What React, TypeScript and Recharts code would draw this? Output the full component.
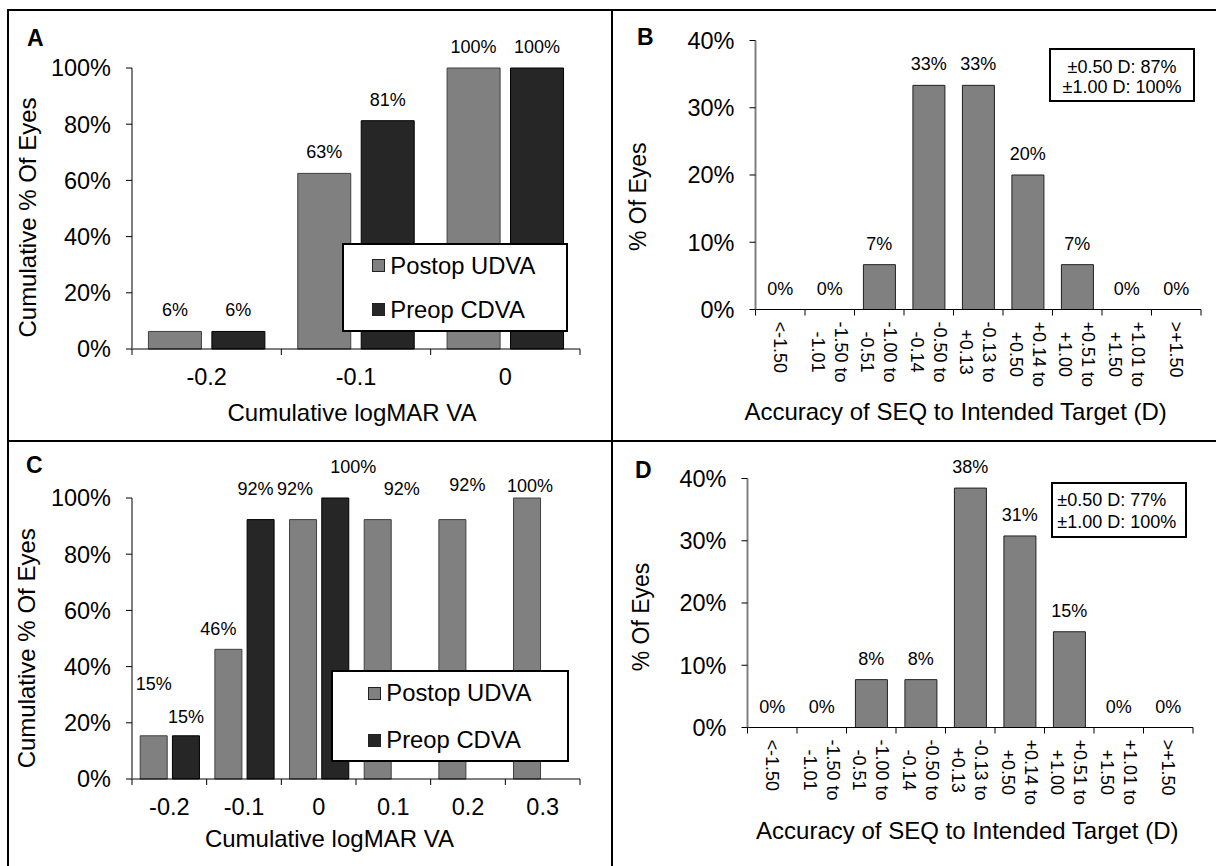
import React from 'react';
import { ComposedChart, Bar, Line, XAxis, YAxis, Legend, LabelList, Label } from 'recharts';

const FONT = '"Liberation Sans", Arial, Helvetica, sans-serif';

// ---------- data ----------
const seriesNames = ['Postop UDVA', 'Preop CDVA'];

const cumCatsA = ['-0.2', '-0.1', '0'];
const postopA = [6.25, 62.5, 100];
const preopA = [6.25, 81.25, 100];

const cumCatsC = ['-0.2', '-0.1', '0', '0.1', '0.2', '0.3'];
const postopC = [15.38, 46.15, 92.31, 92.31, 92.31, 100];
const preopC: (number | null)[] = [15.38, 92.31, 100, null, null, null];

const cumTicks = [0, 20, 40, 60, 80, 100];

const accuracyBins = [
  '<-1.50',
  '-1.50 to -1.01',
  '-1.00 to -0.51',
  '-0.50 to -0.14',
  '-0.13 to +0.13',
  '+0.14 to +0.50',
  '+0.51 to +1.00',
  '+1.01 to +1.50',
  '>+1.50',
];
const eyesB = [0, 0, 6.67, 33.33, 33.33, 20, 6.67, 0, 0];
const eyesD = [0, 0, 7.69, 7.69, 38.46, 30.77, 15.38, 0, 0];
const pctTicks = [0, 10, 20, 30, 40];

const insetB = ['\u00B10.50 D: 87%', '\u00B11.00 D: 100%'];
const insetD = ['\u00B10.50 D: 77%', '\u00B11.00 D: 100%'];

const titleCumX = 'Cumulative logMAR VA';
const titleCumY = 'Cumulative % Of Eyes';
const titleAccX = 'Accuracy of SEQ to Intended Target (D)';
const titleAccY = '% Of Eyes';

// ---------- styles ----------
const GRAY = '#808080';
const DARK = '#262626';
const FRAME = '#808080';
const TICK_FS = 23.5;
const LABEL_FS = 18;
const LEGEND_FS = 23.8;

// label nudges (styling offsets, px) for panel C, where labels were hand placed
const nudgeC = {
  postop: [[0, -31], [-10, 1], [-8, -10], [24, -10], [15, -14], [3, 9]],
  preop: [[0, 2], [-5, -10], [18, -10], [0, 0], [0, 0], [0, 0]],
};

type Rect = { x: number; y: number; w: number; h: number };
type Box = { l: number; t: number; r: number; b: number };
type Layout = {
  chart: Rect;
  plot: Box;
  xTitle: { x: number; y: number; size: number };
  yTitle: { x: number; y: number; size: number };
};

const layoutA: Layout = {
  chart: { x: 10, y: 12, w: 600, h: 427 },
  plot: { l: 132, t: 68, r: 580, b: 349 },
  xTitle: { x: 352, y: 420.5, size: 24 },
  yTitle: { x: 35.5, y: 217.5, size: 24 },
};
const layoutB: Layout = {
  chart: { x: 614, y: 12, w: 600, h: 427 },
  plot: { l: 755.5, t: 40.5, r: 1201, b: 309.5 },
  xTitle: { x: 955.6, y: 420, size: 24 },
  yTitle: { x: 646.5, y: 196.7, size: 23 },
};
const layoutC: Layout = {
  chart: { x: 10, y: 443, w: 600, h: 423 },
  plot: { l: 132, t: 498, r: 580, b: 779 },
  xTitle: { x: 329.4, y: 846.7, size: 24 },
  yTitle: { x: 35.5, y: 648.3, size: 24 },
};
const layoutD: Layout = {
  chart: { x: 614, y: 443, w: 600, h: 423 },
  plot: { l: 747.5, t: 478.5, r: 1193, b: 727.5 },
  xTitle: { x: 967.3, y: 839, size: 24 },
  yTitle: { x: 648.5, y: 617, size: 23 },
};

const legendA = { l: 342, t: 242.7, w: 226, h: 89.3, rows: [20.9, 64.8], sq: 28.3 };
const legendC = { l: 331.3, t: 670, w: 238, h: 91.7, rows: [21.3, 68], sq: 35 };

// Arial advance widths (em) for tick label centering
const CW: Record<string, number> = {
  '.': 0.278, '-': 0.333, '+': 0.584, '<': 0.584, '>': 0.584, ' ': 0.278, t: 0.278, o: 0.556,
};
const textW = (s: string, size: number) =>
  s.split('').reduce((a, c) => a + (CW[c] ?? 0.556), 0) * size;

// ---------- ticks ----------
function CatTick(props: any) {
  const { x, payload, index, band, n, axisY, dy } = props;
  const lx = x - band / 2;
  const rx = x + band / 2;
  return (
    <g>
      <line x1={lx} x2={lx} y1={axisY} y2={axisY + 6} stroke="#000" strokeWidth={1} />
      {index === n - 1 && <line x1={rx} x2={rx} y1={axisY} y2={axisY + 6} stroke="#000" strokeWidth={1} />}
      <text x={x} y={axisY + dy} textAnchor="middle" fontSize={TICK_FS} fontFamily={FONT} fill="#000">
        {payload.value}
      </text>
    </g>
  );
}

function RotTick(props: any) {
  const { x, payload, index, band, n, axisY } = props;
  const label = String(payload.value);
  const k = label.indexOf(' to ');
  const lines = k >= 0 ? [label.slice(0, k + 3), label.slice(k + 4)] : [label];
  const fs = 18;
  const maxW = Math.max(...lines.map((l) => textW(l, fs)));
  const cx = 12 + maxW / 2;
  const gap = 23.3;
  const base = 0.358 * fs;
  const ys = lines.length === 2 ? [-gap / 2 + base, gap / 2 + base] : [base];
  const lx = x - band / 2;
  const rx = x + band / 2;
  return (
    <g>
      <line x1={lx} x2={lx} y1={axisY} y2={axisY + 6} stroke="#000" strokeWidth={1} />
      {index === n - 1 && <line x1={rx} x2={rx} y1={axisY} y2={axisY + 6} stroke="#000" strokeWidth={1} />}
      <g transform={`translate(${x},${axisY}) rotate(90)`}>
        <text fontSize={fs} fontFamily={FONT} fill="#000" textAnchor="middle">
          {lines.map((l, i) => (
            <tspan key={i} x={cx} y={ys[i]}>
              {l}
            </tspan>
          ))}
        </text>
      </g>
    </g>
  );
}

// ---------- labels ----------
const makeLabel = (nudge?: number[][]) => (props: any) => {
  const { value, index } = props;
  if (value === null || value === undefined || value === '') return null;
  const vb = props.viewBox ?? {};
  const bx = vb.x ?? props.x;
  const by = vb.y ?? props.y;
  const bw = vb.width ?? props.width ?? 0;
  const bh = vb.height ?? props.height ?? 0;
  if (bx === undefined || by === undefined || Number.isNaN(bx) || Number.isNaN(by)) return null;
  const top = bh < 0 ? by + bh : by;
  const d = nudge && nudge[index] ? nudge[index] : [0, 0];
  return (
    <text
      x={bx + bw / 2 + d[0]}
      y={top - 15 + d[1]}
      textAnchor="middle"
      fontSize={LABEL_FS}
      fontFamily={FONT}
      fill="#000"
    >
      {`${Math.round(Number(value))}%`}
    </text>
  );
};

// ---------- legend ----------
function LegendBox({ payload, spec }: any) {
  const items = (payload || []).filter((e: any) => e.type !== 'none');
  return (
    <div
      style={{
        position: 'relative',
        width: '100%',
        height: '100%',
        boxSizing: 'border-box',
        border: '2px solid #000',
        background: '#fff',
      }}
    >
      {items.map((e: any, i: number) => (
        <div
          key={i}
          style={{
            position: 'absolute',
            left: spec.sq,
            top: spec.rows[i] - 12,
            height: 24,
            display: 'flex',
            alignItems: 'center',
            fontSize: LEGEND_FS,
            lineHeight: 1,
            fontFamily: FONT,
            color: '#000',
            whiteSpace: 'nowrap',
          }}
        >
          <span
            style={{
              display: 'inline-block',
              width: 13,
              height: 13,
              boxSizing: 'border-box',
              background: e.color,
              border: '1px solid #222',
              marginRight: 5,
            }}
          />
          <span>{e.value}</span>
        </div>
      ))}
    </div>
  );
}

// ---------- panel ----------
type BarSpec = { key: string; name: string; fill: string; stroke: string; nudge?: number[][] };

function Panel(props: {
  layout: Layout;
  data: any[];
  n: number;
  bars: BarSpec[];
  yMax: number;
  yTicks: number[];
  rotated: boolean;
  xTitle: string;
  yTitle: string;
  legend?: typeof legendA;
  catGap: string;
  barGap?: string;
  centerLabels?: boolean;
}) {
  const { layout, data, n, bars, yMax, yTicks, rotated, xTitle, yTitle, legend, catGap, barGap, centerLabels } =
    props;
  const { chart, plot } = layout;
  const band = (plot.r - plot.l) / n;
  const axisY = plot.b - chart.y;
  const xt = layout.xTitle;
  const yt = layout.yTitle;
  return (
    <div style={{ position: 'absolute', left: chart.x, top: chart.y, width: chart.w, height: chart.h }}>
      <ComposedChart
        width={chart.w}
        height={chart.h}
        data={data}
        margin={{ top: plot.t - chart.y, right: chart.x + chart.w - plot.r, left: 0, bottom: 0 }}
        barCategoryGap={catGap}
        barGap={barGap ?? 0}
      >
        <XAxis
          dataKey="cat"
          type="category"
          height={chart.y + chart.h - plot.b}
          interval={0}
          tickLine={false}
          tickSize={0}
          tickMargin={0}
          axisLine={{ stroke: '#000', strokeWidth: 1 }}
          tick={(p: any) =>
            rotated ? (
              <RotTick {...p} band={band} n={n} axisY={axisY} />
            ) : (
              <CatTick {...p} band={band} n={n} axisY={axisY} dy={35.5} />
            )
          }
        >
          <Label
            content={() => (
              <text
                x={xt.x - chart.x}
                y={xt.y - chart.y}
                textAnchor="middle"
                fontSize={xt.size}
                fontFamily={FONT}
                fill="#000"
              >
                {xTitle}
              </text>
            )}
          />
        </XAxis>
        <XAxis
          xAxisId="top"
          orientation="top"
          dataKey="cat"
          height={0}
          tick={false}
          tickLine={false}
          axisLine={{ stroke: FRAME, strokeWidth: 2 }}
        />
        <YAxis
          width={plot.l - chart.x}
          domain={[0, yMax]}
          ticks={yTicks}
          interval={0}
          tickFormatter={(v: number) => `${v}%`}
          tickSize={6}
          tickMargin={15}
          tickLine={{ stroke: '#000', strokeWidth: 1 }}
          axisLine={{ stroke: FRAME, strokeWidth: 2 }}
          tick={{ fontSize: TICK_FS, fill: '#000', fontFamily: FONT }}
        >
          <Label
            content={() => {
              const x = yt.x - chart.x;
              const y = yt.y - chart.y;
              return (
                <text
                  x={x}
                  y={y}
                  transform={`rotate(-90 ${x} ${y})`}
                  textAnchor="middle"
                  fontSize={yt.size}
                  fontFamily={FONT}
                  fill="#000"
                >
                  {yTitle}
                </text>
              );
            }}
          />
        </YAxis>
        <YAxis
          yAxisId="right"
          orientation="right"
          width={0}
          domain={[0, yMax]}
          tick={false}
          tickLine={false}
          axisLine={{ stroke: FRAME, strokeWidth: 2 }}
        />
        {bars.map((b) => (
          <Bar
            key={b.key}
            dataKey={b.key}
            name={b.name}
            fill={b.fill}
            stroke={b.stroke}
            strokeWidth={1}
            isAnimationActive={false}
          >
            {!centerLabels && <LabelList dataKey={b.key} content={makeLabel(b.nudge)} />}
          </Bar>
        ))}
        {centerLabels &&
          bars.map((b) => (
            <Line
              key={`l-${b.key}`}
              dataKey={b.key}
              stroke="none"
              dot={false}
              activeDot={false}
              legendType="none"
              isAnimationActive={false}
            >
              <LabelList dataKey={b.key} content={makeLabel()} />
            </Line>
          ))}
        {legend && (
          <Legend
            layout="horizontal"
            verticalAlign="middle"
            align="center"
            wrapperStyle={{
              left: legend.l - chart.x,
              top: legend.t - chart.y,
              width: legend.w,
              height: legend.h,
            }}
            content={(p: any) => <LegendBox payload={p.payload} spec={legend} />}
          />
        )}
      </ComposedChart>
    </div>
  );
}

function Inset({ lines, box, align }: { lines: string[]; box: any; align: 'center' | 'left' }) {
  return (
    <div
      style={{
        position: 'absolute',
        left: box.l,
        top: box.t,
        width: box.w,
        height: box.h,
        boxSizing: 'border-box',
        border: '2px solid #000',
        background: '#fff',
      }}
    >
      {lines.map((l, i) => (
        <div
          key={i}
          style={{
            position: 'absolute',
            left: align === 'center' ? 0 : box.pad,
            width: align === 'center' ? '100%' : undefined,
            top: box.rows[i] - 9,
            height: 18,
            lineHeight: '18px',
            fontSize: 18,
            fontFamily: FONT,
            color: '#000',
            textAlign: align,
            whiteSpace: 'nowrap',
          }}
        >
          {l}
        </div>
      ))}
    </div>
  );
}

export default function App() {
  const dataA = cumCatsA.map((cat, i) => ({ cat, postop: postopA[i], preop: preopA[i] }));
  const dataC = cumCatsC.map((cat, i) => ({ cat, postop: postopC[i], preop: preopC[i] }));
  const dataB = accuracyBins.map((cat, i) => ({ cat, eyes: eyesB[i] }));
  const dataD = accuracyBins.map((cat, i) => ({ cat, eyes: eyesD[i] }));

  const cumBarsA: BarSpec[] = [
    { key: 'postop', name: seriesNames[0], fill: GRAY, stroke: '#404040' },
    { key: 'preop', name: seriesNames[1], fill: DARK, stroke: '#000' },
  ];
  const cumBarsC: BarSpec[] = [
    { key: 'postop', name: seriesNames[0], fill: GRAY, stroke: '#404040', nudge: nudgeC.postop },
    { key: 'preop', name: seriesNames[1], fill: DARK, stroke: '#000', nudge: nudgeC.preop },
  ];
  const accBars: BarSpec[] = [{ key: 'eyes', name: '% Of Eyes', fill: GRAY, stroke: '#202020' }];

  const letter = (t: string, x: number, y: number) => (
    <text x={x} y={y} fontSize={23} fontWeight="bold" fontFamily={FONT} fill="#000">
      {t}
    </text>
  );

  return (
    <div
      style={{
        position: 'absolute',
        left: 0,
        top: 0,
        width: 1216,
        height: 866,
        background: '#fff',
        overflow: 'hidden',
        fontFamily: FONT,
      }}
    >
      <Panel
        layout={layoutA}
        data={dataA}
        n={cumCatsA.length}
        bars={cumBarsA}
        yMax={100}
        yTicks={cumTicks}
        rotated={false}
        xTitle={titleCumX}
        yTitle={titleCumY}
        legend={legendA}
        catGap="11%"
        barGap="7%"
      />
      <Panel
        layout={layoutB}
        data={dataB}
        n={accuracyBins.length}
        bars={accBars}
        yMax={40}
        yTicks={pctTicks}
        rotated={true}
        xTitle={titleAccX}
        yTitle={titleAccY}
        catGap="18%"
        centerLabels
      />
      <Panel
        layout={layoutC}
        data={dataC}
        n={cumCatsC.length}
        bars={cumBarsC}
        yMax={100}
        yTicks={cumTicks}
        rotated={false}
        xTitle={titleCumX}
        yTitle={titleCumY}
        legend={legendC}
        catGap="11%"
        barGap="7%"
      />
      <Panel
        layout={layoutD}
        data={dataD}
        n={accuracyBins.length}
        bars={accBars}
        yMax={40}
        yTicks={pctTicks}
        rotated={true}
        xTitle={titleAccX}
        yTitle={titleAccY}
        catGap="18%"
        centerLabels
      />
      <Inset lines={insetB} box={{ l: 1049, t: 48.3, w: 146, h: 53.4, rows: [16.6, 36.6], pad: 0 }} align="center" />
      <Inset lines={insetD} box={{ l: 1050.7, t: 481.7, w: 136.3, h: 56.6, rows: [16.6, 38.2], pad: 4.6 }} align="left" />
      <svg
        width={1216}
        height={866}
        style={{ position: 'absolute', left: 0, top: 0, pointerEvents: 'none' }}
      >
        <line x1={7} x2={1216} y1={10} y2={10} stroke="#000" strokeWidth={2} />
        <line x1={8} x2={8} y1={9} y2={866} stroke="#000" strokeWidth={2} />
        <line x1={612} x2={612} y1={9} y2={866} stroke="#000" strokeWidth={2} />
        <line x1={7} x2={1216} y1={441} y2={441} stroke="#000" strokeWidth={2} />
        {letter('A', 27, 46)}
        {letter('B', 637, 45)}
        {letter('C', 26, 473)}
        {letter('D', 635, 478)}
      </svg>
    </div>
  );
}
